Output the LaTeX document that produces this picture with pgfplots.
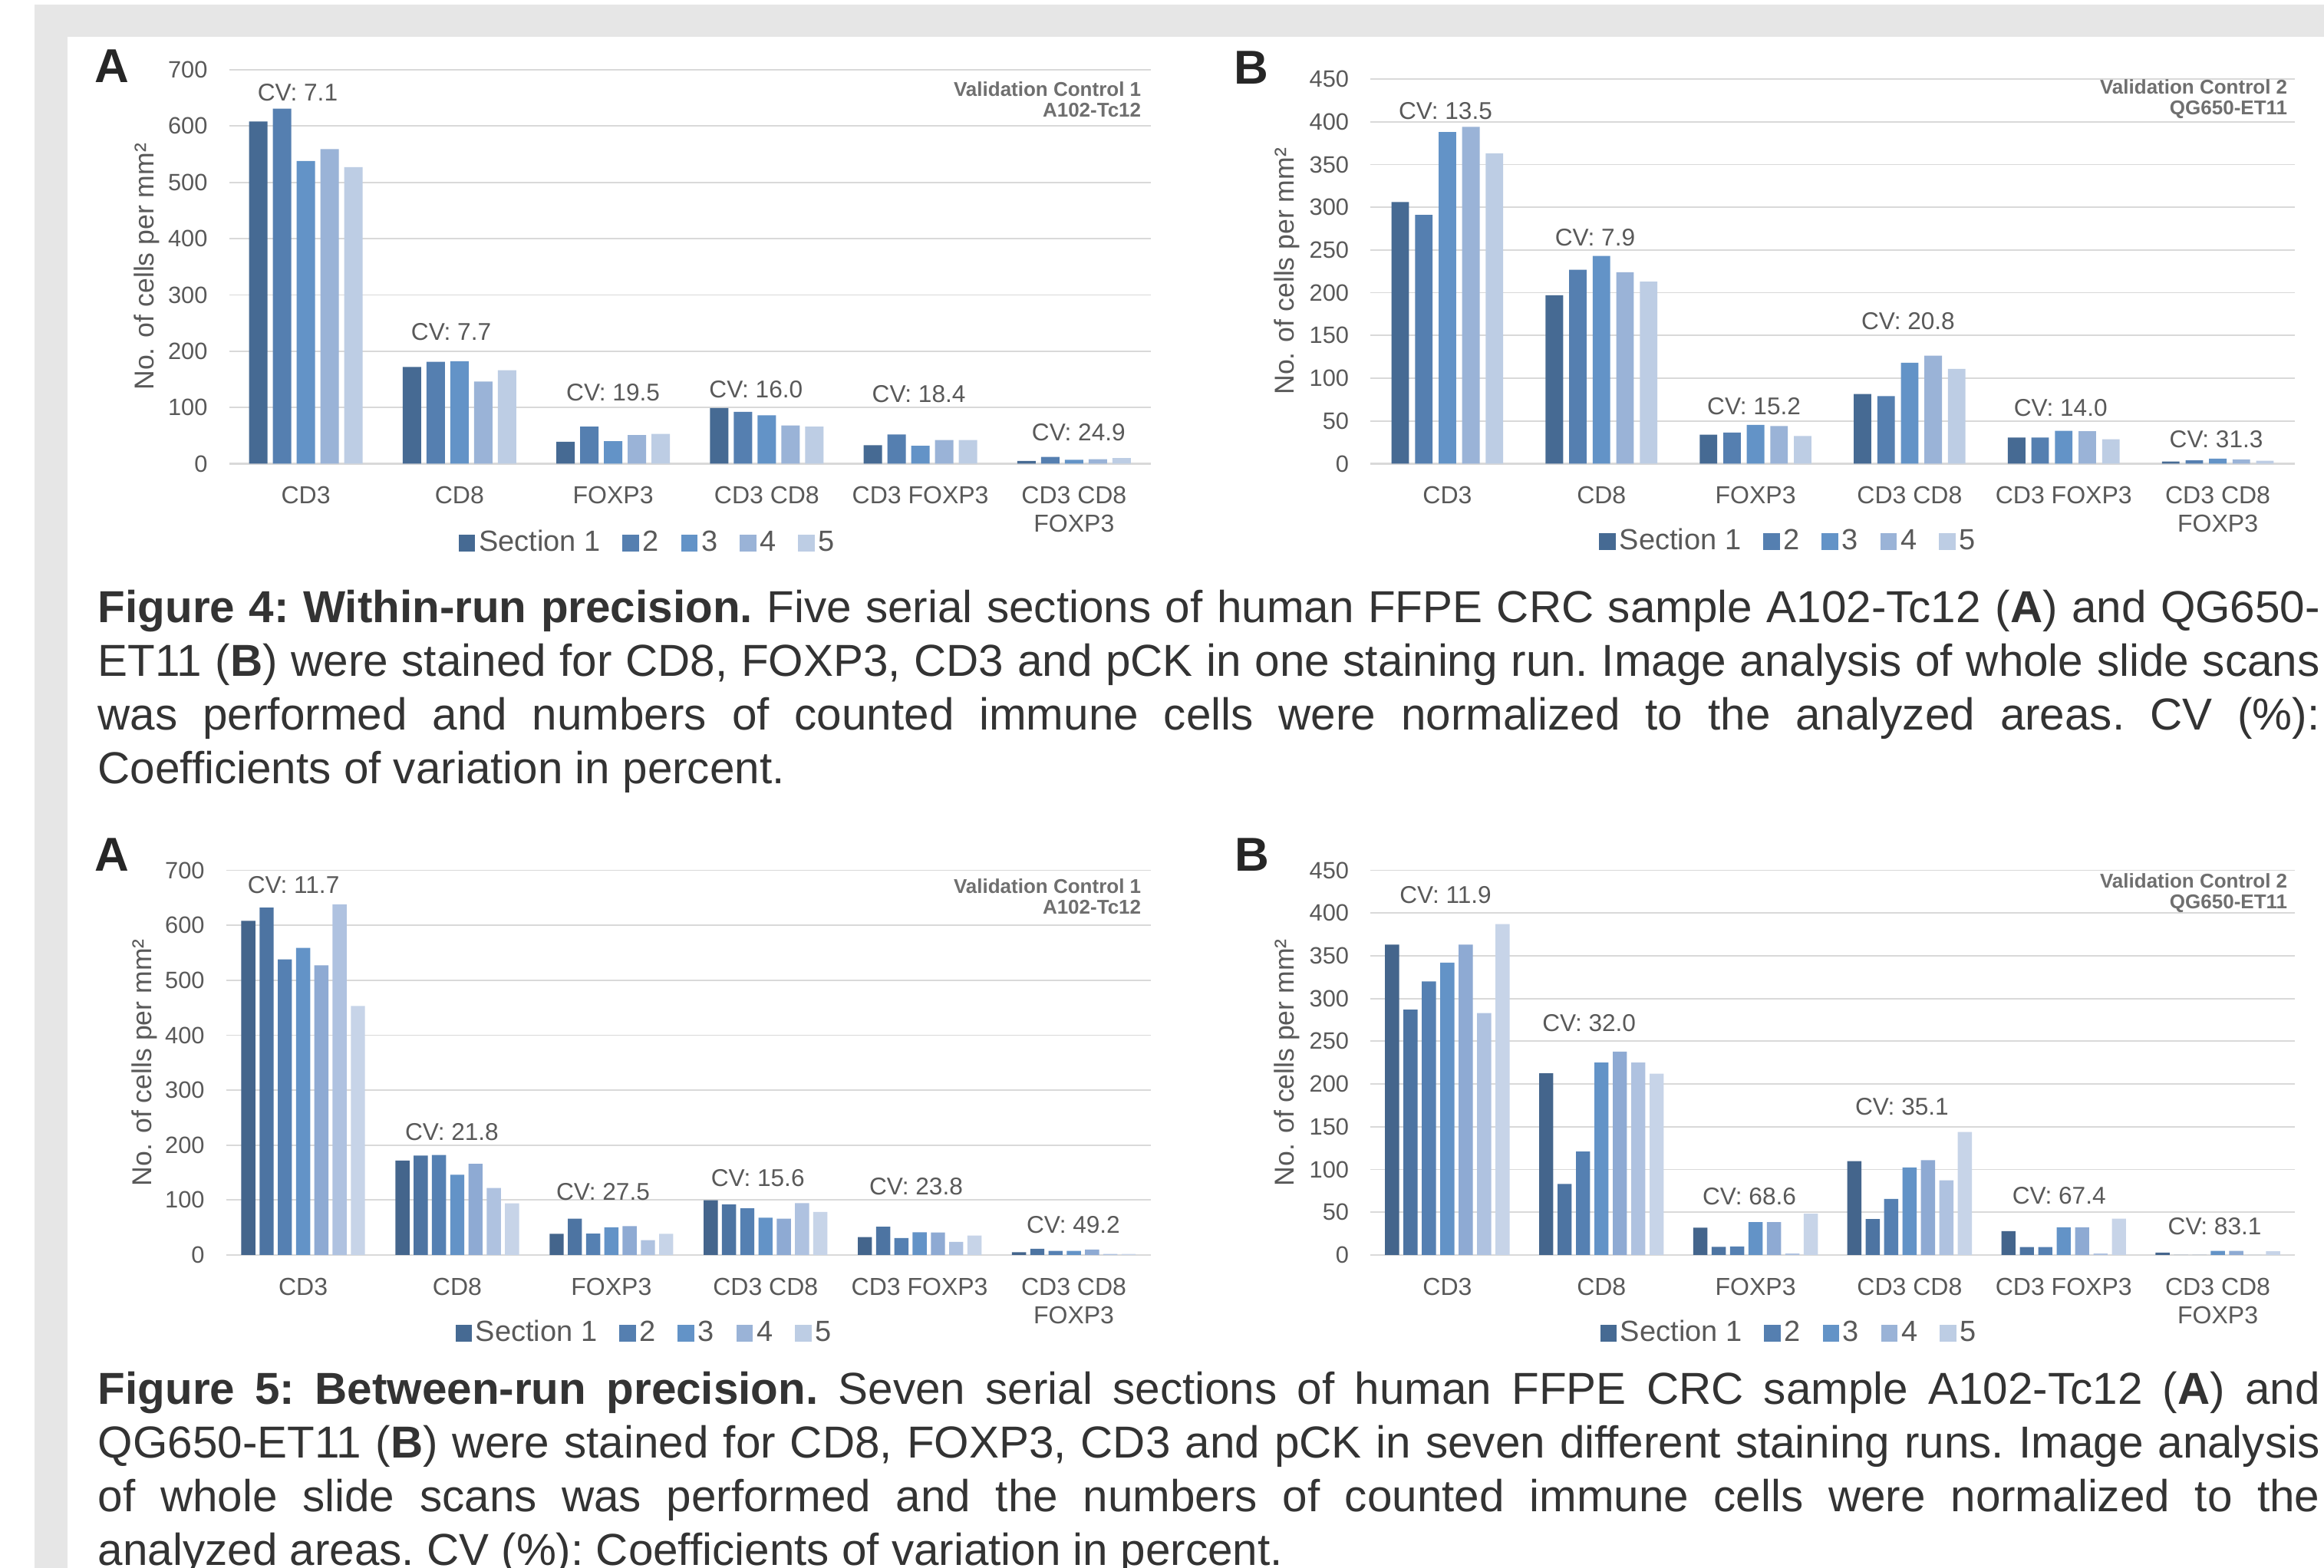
\documentclass[border=0pt]{standalone}
\usepackage{fontspec}
\setmainfont{Liberation Sans}
\usepackage{pgfplots}
\pgfplotsset{compat=1.18}
\definecolor{c1}{HTML}{466A93}
\definecolor{c2}{HTML}{557FB0}
\definecolor{c3}{HTML}{6393C7}
\definecolor{c4}{HTML}{9AB3D7}
\definecolor{c5}{HTML}{BDCDE4}
\definecolor{d1}{HTML}{44658C}
\definecolor{d2}{HTML}{4D74A2}
\definecolor{d3}{HTML}{5580B2}
\definecolor{d4}{HTML}{6393C7}
\definecolor{d5}{HTML}{8EAAD3}
\definecolor{d6}{HTML}{AFC2E0}
\definecolor{d7}{HTML}{C7D4E8}
\definecolor{txt}{HTML}{595959}
\definecolor{txtb}{HTML}{6F6F6F}
\definecolor{gridc}{HTML}{D9D9D9}
\definecolor{framec}{HTML}{E6E6E6}
\definecolor{capc}{HTML}{333333}
\pgfplotsset{
  base/.style={
    scale only axis,
    axis x line*=bottom, axis y line*=left,
    x axis line style={draw=gridc, line width=0.6pt},
    y axis line style={draw=none},
    ymajorgrids, grid style={draw=gridc, line width=0.45pt},
    xmin=-0.5, xmax=5.5, ymin=0,
    xtick={0,...,5},
    xticklabels={CD3,CD8,FOXP3,CD3 CD8,CD3 FOXP3,{CD3 CD8\\FOXP3}},
    major tick length=0pt,
    xticklabel style={font=\fontsize{8pt}{9.2pt}\selectfont, text=txt, align=center, anchor=north, inner sep=0pt, yshift=-7.3pt},
    yticklabel style={font=\fontsize{7.7pt}{8pt}\selectfont, text=txt, anchor=east, inner sep=0pt, xshift=-6.8pt},
    /pgf/number format/assume math mode=true,
    ylabel={No. of cells per mm²},
    ylabel style={font=\fontsize{8.9pt}{9pt}\selectfont, text=txt, anchor=center},
    legend style={font=\fontsize{9.5pt}{10pt}\selectfont, text=txt, draw=none, fill=none, legend columns=-1, anchor=center, nodes={inner sep=1.2pt}, /tikz/every even column/.append style={column sep=6pt}},
    legend image code/.code={\fill[##1] (0pt,-2.7pt) rectangle (5.4pt,2.7pt);},
    clip=false,
    enlargelimits=false,
  },
}
\tikzset{
  cvlab/.style={font=\fontsize{7.9pt}{8pt}\selectfont, text=txt, inner sep=0pt},
  vallab/.style={font=\bfseries\fontsize{6.5pt}{6.75pt}\selectfont, text=txtb, align=right, anchor=east, inner sep=0pt},
}
\begin{document}
\begin{tikzpicture}
\path[use as bounding box] (0pt,0pt) rectangle (757.25pt,511pt);
\begin{scope}[x=0.25pt,y=0.25pt]
\fill[framec] (45,2038) rectangle (3029,0);
\fill[white] (88,1996) rectangle (3029,0);
\end{scope}

% ---------------- Figure 4 A
\begin{axis}[ybar, base, at={(74.625pt,359.875pt)}, anchor=south west, width=300.375pt, height=128.375pt,
  ymax=700, ytick={0,100,...,700}, bar width=6pt,
  ylabel style={at={(axis description cs:-0.0895,0.5)}},
  legend style={at={(0.455,-0.2016)}}]
\addlegendimage{fill=c1,draw=none}
\addlegendimage{fill=c2,draw=none}
\addlegendimage{fill=c3,draw=none}
\addlegendimage{fill=c4,draw=none}
\addlegendimage{fill=c5,draw=none}
\addplot[fill=c1,draw=none,bar shift=-15.5pt,forget plot] coordinates {(0,608) (1,172) (2,39) (3,99) (4,33) (5,5)};
\addplot[fill=c2,draw=none,bar shift=-7.75pt,forget plot] coordinates {(0,631) (1,181) (2,66) (3,92) (4,52) (5,12)};
\addplot[fill=c3,draw=none,bar shift=0pt,forget plot] coordinates {(0,538) (1,182) (2,40) (3,86) (4,32) (5,7)};
\addplot[fill=c4,draw=none,bar shift=7.75pt,forget plot] coordinates {(0,559) (1,146) (2,51) (3,68) (4,42) (5,8)};
\addplot[fill=c5,draw=none,bar shift=15.5pt,forget plot] coordinates {(0,527) (1,166) (2,53) (3,66) (4,42) (5,10)};
\legend{Section 1,2,3,4,5}
\node[cvlab] at (axis cs:-0.053,659) {CV: 7.1};
\node[cvlab] at (axis cs:0.946,234) {CV: 7.7};
\node[cvlab] at (axis cs:2.0,127) {CV: 19.5};
\node[cvlab] at (axis cs:2.93,131.5) {CV: 16.0};
\node[cvlab] at (axis cs:3.99,124) {CV: 18.4};
\node[cvlab] at (axis cs:5.03,55.5) {CV: 24.9};
\node[vallab] at (rel axis cs:0.99,0.925) {Validation Control 1\\A102-Tc12};
\end{axis}

% ---------------- Figure 4 B
\begin{axis}[ybar, base, at={(446.5pt,359.875pt)}, anchor=south west, width=301.25pt, height=125.375pt,
  ymax=450, ytick={0,50,...,450}, bar width=5.7pt,
  ylabel style={at={(axis description cs:-0.0905,0.5)}},
  legend style={at={(0.453,-0.2024)}}]
\addlegendimage{fill=c1,draw=none}
\addlegendimage{fill=c2,draw=none}
\addlegendimage{fill=c3,draw=none}
\addlegendimage{fill=c4,draw=none}
\addlegendimage{fill=c5,draw=none}
\addplot[fill=c1,draw=none,bar shift=-15.35pt,forget plot] coordinates {(0,306) (1,197) (2,34) (3,81.5) (4,30.5) (5,2.5)};
\addplot[fill=c2,draw=none,bar shift=-7.675pt,forget plot] coordinates {(0,291) (1,227) (2,36.5) (3,79) (4,30.5) (5,4)};
\addplot[fill=c3,draw=none,bar shift=0pt,forget plot] coordinates {(0,388) (1,243) (2,45.5) (3,118) (4,38.5) (5,6)};
\addplot[fill=c4,draw=none,bar shift=7.675pt,forget plot] coordinates {(0,394) (1,224) (2,44) (3,126.5) (4,38) (5,5)};
\addplot[fill=c5,draw=none,bar shift=15.35pt,forget plot] coordinates {(0,363) (1,213) (2,32.5) (3,111) (4,28.5) (5,3.5)};
\legend{Section 1,2,3,4,5}
\node[cvlab] at (axis cs:-0.012,413) {CV: 13.5};
\node[cvlab] at (axis cs:0.959,265) {CV: 7.9};
\node[cvlab] at (axis cs:1.99,67) {CV: 15.2};
\node[cvlab] at (axis cs:2.99,167) {CV: 20.8};
\node[cvlab] at (axis cs:3.98,65) {CV: 14.0};
\node[cvlab] at (axis cs:4.99,29) {CV: 31.3};
\node[vallab] at (rel axis cs:0.9925,0.947) {Validation Control 2\\QG650-ET11};
\end{axis}

% ---------------- Figure 5 A
\begin{axis}[ybar, base, at={(73.65pt,102pt)}, anchor=south west, width=301.35pt, height=125.375pt,
  ymax=700, ytick={0,100,...,700}, bar width=4.6pt,
  ylabel style={at={(axis description cs:-0.0884,0.5)}},
  legend style={at={(0.4533,-0.2034)}}]
\addlegendimage{fill=c1,draw=none}
\addlegendimage{fill=c2,draw=none}
\addlegendimage{fill=c3,draw=none}
\addlegendimage{fill=c4,draw=none}
\addlegendimage{fill=c5,draw=none}
\addplot[fill=d1,draw=none,bar shift=-17.85pt,forget plot] coordinates {(0,608) (1,172) (2,38.5) (3,99.5) (4,32.5) (5,5)};
\addplot[fill=d2,draw=none,bar shift=-11.9pt,forget plot] coordinates {(0,632) (1,181) (2,66) (3,92) (4,51.5) (5,11.5)};
\addplot[fill=d3,draw=none,bar shift=-5.95pt,forget plot] coordinates {(0,538) (1,182) (2,39) (3,85) (4,31) (5,7.5)};
\addplot[fill=d4,draw=none,bar shift=0pt,forget plot] coordinates {(0,559) (1,146) (2,50.5) (3,68) (4,41.5) (5,7.5)};
\addplot[fill=d5,draw=none,bar shift=5.95pt,forget plot] coordinates {(0,527) (1,166) (2,52.5) (3,66) (4,41) (5,10)};
\addplot[fill=d6,draw=none,bar shift=11.9pt,forget plot] coordinates {(0,638) (1,122) (2,27) (3,94.5) (4,24) (5,2)};
\addplot[fill=d7,draw=none,bar shift=17.85pt,forget plot] coordinates {(0,453) (1,94) (2,38.5) (3,78.5) (4,35.5) (5,2)};
\legend{Section 1,2,3,4,5}
\node[cvlab] at (axis cs:-0.062,673) {CV: 11.7};
\node[cvlab] at (axis cs:0.965,223.6) {CV: 21.8};
\node[cvlab] at (axis cs:1.946,114.6) {CV: 27.5};
\node[cvlab] at (axis cs:2.95,139.5) {CV: 15.6};
\node[cvlab] at (axis cs:3.977,125) {CV: 23.8};
\node[cvlab] at (axis cs:4.997,55.4) {CV: 49.2};
\node[vallab] at (rel axis cs:0.99,0.932) {Validation Control 1\\A102-Tc12};
\end{axis}

% ---------------- Figure 5 B
\begin{axis}[ybar, base, at={(446.5pt,102pt)}, anchor=south west, width=301.25pt, height=125.375pt,
  ymax=450, ytick={0,50,...,450}, bar width=4.6pt,
  ylabel style={at={(axis description cs:-0.0905,0.5)}},
  legend style={at={(0.454,-0.2034)}}]
\addlegendimage{fill=c1,draw=none}
\addlegendimage{fill=c2,draw=none}
\addlegendimage{fill=c3,draw=none}
\addlegendimage{fill=c4,draw=none}
\addlegendimage{fill=c5,draw=none}
\addplot[fill=d1,draw=none,bar shift=-18pt,forget plot] coordinates {(0,363) (1,212.5) (2,32) (3,109.7) (4,28) (5,2.8)};
\addplot[fill=d2,draw=none,bar shift=-12pt,forget plot] coordinates {(0,287) (1,83) (2,9.6) (3,42) (4,9.2) (5,0)};
\addplot[fill=d3,draw=none,bar shift=-6pt,forget plot] coordinates {(0,320) (1,121) (2,10) (3,65.7) (4,9.2) (5,0)};
\addplot[fill=d4,draw=none,bar shift=0pt,forget plot] coordinates {(0,342) (1,225) (2,38.4) (3,102.5) (4,32.4) (5,4.8)};
\addplot[fill=d5,draw=none,bar shift=6pt,forget plot] coordinates {(0,363) (1,238) (2,38.4) (3,111) (4,32.4) (5,4.8)};
\addplot[fill=d6,draw=none,bar shift=12pt,forget plot] coordinates {(0,283) (1,225) (2,1.6) (3,87.3) (4,1.6) (5,0)};
\addplot[fill=d7,draw=none,bar shift=18pt,forget plot] coordinates {(0,387) (1,212) (2,48.4) (3,144) (4,42.4) (5,4.4)};
\legend{Section 1,2,3,4,5}
\node[cvlab] at (axis cs:-0.012,421) {CV: 11.9};
\node[cvlab] at (axis cs:0.92,271.5) {CV: 32.0};
\node[cvlab] at (axis cs:1.96,68.5) {CV: 68.6};
\node[cvlab] at (axis cs:2.95,173.8) {CV: 35.1};
\node[cvlab] at (axis cs:3.97,69.7) {CV: 67.4};
\node[cvlab] at (axis cs:4.98,33.6) {CV: 83.1};
\node[vallab] at (rel axis cs:0.9925,0.94) {Validation Control 2\\QG650-ET11};
\end{axis}

\begin{scope}[x=0.25pt,y=0.25pt]
\node[font=\bfseries\fontsize{15.5pt}{16pt}\selectfont, text=black!85, inner sep=0pt] at (146,1958) {A};
\node[font=\bfseries\fontsize{15.5pt}{16pt}\selectfont, text=black!85, inner sep=0pt] at (1631,1956) {B};
\node[font=\bfseries\fontsize{15.5pt}{16pt}\selectfont, text=black!85, inner sep=0pt] at (146,929.5) {A};
\node[font=\bfseries\fontsize{15.5pt}{16pt}\selectfont, text=black!85, inner sep=0pt] at (1632,929.5) {B};
\node[anchor=base west, text width=724pt, align=justify, inner sep=0pt, text=capc, font=\fontsize{14.6pt}{17.5pt}\selectfont] at (127,1232)
{\frenchspacing\exhyphenpenalty=10000 \hyphenpenalty=10000 \textbf{Figure 4: Within-run precision.} Five serial sections of human FFPE CRC sample A102-Tc12 (\textbf{A}) and QG650-\linebreak ET11 (\textbf{B}) were stained for CD8, FOXP3, CD3 and pCK in one staining run. Image analysis of whole slide scans\linebreak was performed and numbers of counted immune cells were normalized to the analyzed areas. CV (\%):\linebreak Coefficients of variation in percent.};
\node[anchor=base west, text width=724pt, align=justify, inner sep=0pt, text=capc, font=\fontsize{14.6pt}{17.5pt}\selectfont] at (127,213)
{\frenchspacing\exhyphenpenalty=10000 \hyphenpenalty=10000 \textbf{Figure 5: Between-run precision.} Seven serial sections of human FFPE CRC sample A102-Tc12 (\textbf{A}) and\linebreak QG650-ET11 (\textbf{B}) were stained for CD8, FOXP3, CD3 and pCK in seven different staining runs. Image analysis\linebreak of whole slide scans was performed and the numbers of counted immune cells were normalized to the\linebreak analyzed areas. CV (\%): Coefficients of variation in percent.};
\end{scope}
\end{tikzpicture}
\end{document}
